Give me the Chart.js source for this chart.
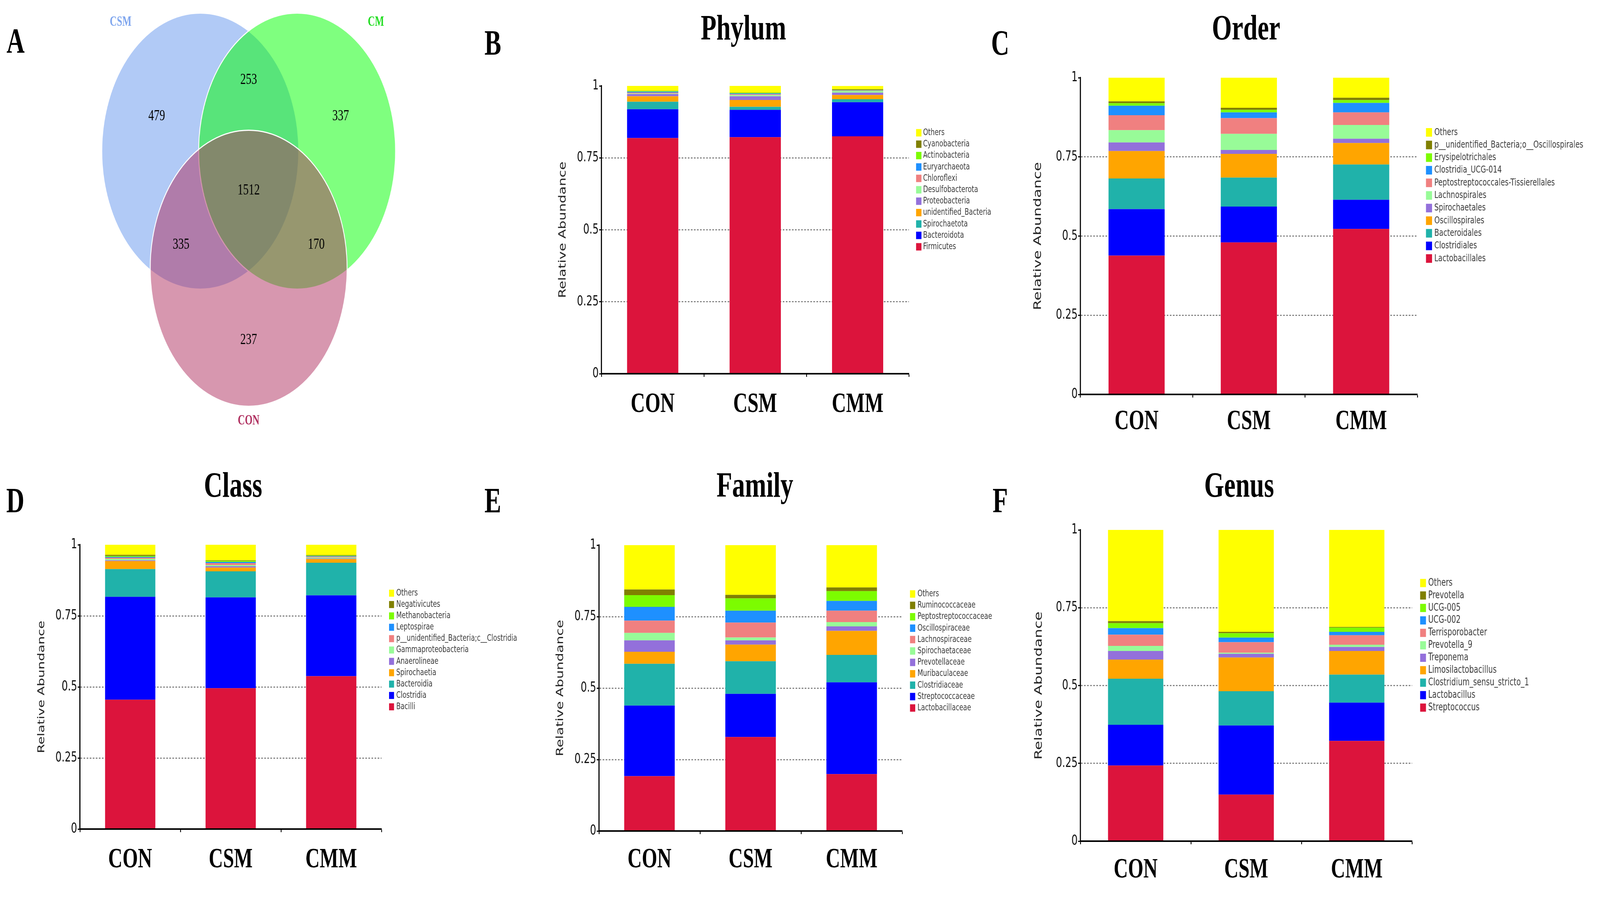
<!DOCTYPE html>
<html>
<head>
<meta charset="utf-8">
<title>Shared OTUs and relative abundance</title>
<script src="https://cdn.jsdelivr.net/npm/chart.js@4.4.1/dist/chart.umd.min.js"></script>
<style>
  html, body { margin: 0; padding: 0; background: #fff; overflow: hidden; }
  #sheet { position: relative; overflow: hidden; }
  #page { position: absolute; left: 0; top: 0; width: 5746px; height: 2297px; transform-origin: 0 0; background: #fff; }
  canvas { position: absolute; }
  .tag, .ttl { position: absolute; font-family: "Liberation Serif", "Times New Roman", serif; font-weight: bold;
               line-height: 1; transform: translate(-50%, -50%); white-space: nowrap; color: #000; }
  .tag { font-size: 90px; }
  .ttl { font-size: 92px; }
</style>
</head>
<body>
<div id="sheet">
<div id="page">
<canvas id="venn"></canvas>
<canvas id="phylum"></canvas>
<canvas id="order"></canvas>
<canvas id="class"></canvas>
<canvas id="family"></canvas>
<canvas id="genus"></canvas>

<div class="tag" style="left:56px;top:105px">A</div>
<div class="tag" style="left:1770px;top:110px">B</div>
<div class="tag" style="left:3592px;top:110px">C</div>
<div class="tag" style="left:55px;top:1282px">D</div>
<div class="tag" style="left:1770px;top:1282px">E</div>
<div class="tag" style="left:3592px;top:1282px">F</div>

<div class="ttl" style="left:2670px;top:70px">Phylum</div>
<div class="ttl" style="left:4475px;top:70px">Order</div>
<div class="ttl" style="left:837px;top:1241px">Class</div>
<div class="ttl" style="left:2711px;top:1241px">Family</div>
<div class="ttl" style="left:4450px;top:1241px">Genus</div>
</div>
</div>

<script>
// ---- data ----
const groups = ['CON', 'CSM', 'CMM'];
const yTicks = [0, 0.25, 0.5, 0.75, 1];

// venn: CSM only, CM only, CON only, CSM&CM, CSM&CON, CM&CON, all three
const vennSets = ['CSM', 'CM', 'CON'];
const vennCounts = [479, 337, 237, 253, 335, 170, 1512];

// stacks listed bottom -> top, values per group
const phylumTaxa = ['Firmicutes', 'Bacteroidota', 'Spirochaetota', 'unidentified_Bacteria', 'Proteobacteria',
  'Desulfobacterota', 'Chloroflexi', 'Euryarchaeota', 'Actinobacteria', 'Cyanobacteria', 'Others'];
const phylumCON = [0.819, 0.100, 0.026, 0.019, 0.008, 0.002, 0.003, 0.003, 0.002, 0.001, 0.017];
const phylumCSM = [0.822, 0.095, 0.0105, 0.0235, 0.013, 0.004, 0.003, 0.003, 0.002, 0.001, 0.023];
const phylumCMM = [0.825, 0.1185, 0.0105, 0.0145, 0.008, 0.006, 0.001, 0.001, 0.001, 0.003, 0.011];

const orderTaxa = ['Lactobacillales', 'Clostridiales', 'Bacteroidales', 'Oscillospirales', 'Spirochaetales',
  'Lachnospirales', 'Peptostreptococcales-Tissierellales', 'Clostridia_UCG-014', 'Erysipelotrichales',
  'p__unidentified_Bacteria;o__Oscillospirales', 'Others'];
const orderCON = [0.4385, 0.1465, 0.097, 0.0865, 0.027, 0.039, 0.047, 0.030, 0.008, 0.006, 0.0745];
const orderCSM = [0.480, 0.113, 0.0915, 0.075, 0.0125, 0.0508, 0.0497, 0.0181, 0.0081, 0.0063, 0.095];
const orderCMM = [0.5226, 0.0922, 0.1112, 0.0679, 0.0135, 0.0434, 0.0398, 0.0298, 0.0091, 0.0072, 0.0633];

const classTaxa = ['Bacilli', 'Clostridia', 'Bacteroidia', 'Spirochaetia', 'Anaerolineae', 'Gammaproteobacteria',
  'p__unidentified_Bacteria;c__Clostridia', 'Leptospirae', 'Methanobacteria', 'Negativicutes', 'Others'];
const classCON = [0.455, 0.362, 0.0975, 0.028, 0.003, 0.005, 0.004, 0.003, 0.003, 0.004, 0.0355];
const classCSM = [0.4955, 0.3195, 0.0915, 0.013, 0.005, 0.004, 0.007, 0.004, 0.004, 0.002, 0.0545];
const classCMM = [0.5377, 0.2843, 0.1147, 0.0133, 0.002, 0.003, 0.003, 0.002, 0.002, 0.002, 0.036];

const familyTaxa = ['Lactobacillaceae', 'Streptococcaceae', 'Clostridiaceae', 'Muribaculaceae', 'Prevotellaceae',
  'Spirochaetaceae', 'Lachnospiraceae', 'Oscillospiraceae', 'Peptostreptococcaceae', 'Ruminococcaceae', 'Others'];
const familyCON = [0.192, 0.247, 0.146, 0.042, 0.040, 0.026, 0.043, 0.048, 0.041, 0.020, 0.155];
const familyCSM = [0.329, 0.151, 0.114, 0.058, 0.015, 0.010, 0.052, 0.042, 0.043, 0.012, 0.174];
const familyCMM = [0.199, 0.321, 0.096, 0.084, 0.016, 0.015, 0.040, 0.034, 0.034, 0.013, 0.148];

const genusTaxa = ['Streptococcus', 'Lactobacillus', 'Clostridium_sensu_stricto_1', 'Limosilactobacillus', 'Treponema',
  'Prevotella_9', 'Terrisporobacter', 'UCG-002', 'UCG-005', 'Prevotella', 'Others'];
const genusCON = [0.243, 0.131, 0.148, 0.0615, 0.0275, 0.0165, 0.036, 0.021, 0.016, 0.0064, 0.2936];
const genusCSM = [0.1495, 0.2221, 0.1101, 0.1083, 0.0118, 0.0037, 0.0339, 0.0146, 0.014, 0.0045, 0.3275];
const genusCMM = [0.322, 0.123, 0.090, 0.076, 0.0129, 0.0073, 0.0303, 0.011, 0.0137, 0.002, 0.3118];

// ---- styles / layout ----
const serif = '"Liberation Serif", "Times New Roman", serif';
const sans = '"DejaVu Sans", Verdana, sans-serif';
const taxaColors = ['#DC143C', '#0000FF', '#20B2AA', '#FFA500', '#9370DB', '#98FB98',
  '#F08080', '#1E90FF', '#7CFC00', '#808000', '#FFFF00'];
const vennFill = ['rgba(100,149,237,0.5)', 'rgba(0,255,0,0.5)', 'rgba(176,48,96,0.5)'];
const vennNameColor = ['#7fa6ee', '#22dd22', '#b03060'];

// venn geometry in units of the circle radius, origin at the centre of the figure
const vennCircleX = [-0.492, 0.492, 0];
const vennCircleY = [0.283, 0.283, -0.566];
const vennCountX = [-0.934, 0.934, 0, 0, -0.687, 0.687, 0];
const vennCountY = [0.537, 0.537, -1.086, 0.798, -0.396, -0.396, 0];
const vennNameX = [-1.301, 1.293, 0];
const vennNameY = [1.216, 1.216, -1.672];

// the figure is laid out on a 5746 x 2297 sheet and stretched over the whole window
const sheetW = 5746, sheetH = 2297;
const fitX = window.innerWidth / sheetW;
const fitY = window.innerHeight / sheetH;
const sheet = document.getElementById('sheet');
sheet.style.width = window.innerWidth + 'px';
sheet.style.height = window.innerHeight + 'px';
document.getElementById('page').style.transform = 'scale(' + fitX + ',' + fitY + ')';
const pixelRatio = Math.max(1, (window.devicePixelRatio || 1) * Math.max(fitX, fitY));

Chart.defaults.font.family = sans;

function place(canvas, f) {
  canvas.width = f.cw;
  canvas.height = f.ch;
  canvas.style.left = f.cx + 'px';
  canvas.style.top = f.cy + 'px';
}

// legend drawn at the right of the plot, top entry = last dataset
const sideLegend = {
  id: 'sideLegend',
  afterDraw(chart, args, opts) {
    const {ctx, chartArea} = chart;
    const items = chart.data.datasets.slice().reverse();
    ctx.save();
    ctx.font = opts.font + 'px ' + sans;
    ctx.textBaseline = 'middle';
    items.forEach((ds, i) => {
      const x = chartArea.right + opts.dx;
      const y = chartArea.top + opts.dy + i * opts.pitch;
      ctx.fillStyle = ds.backgroundColor;
      ctx.fillRect(x, y - opts.box / 2, opts.box, opts.box);
      ctx.fillStyle = '#3a3a3a';
      ctx.fillText(ds.label, x + opts.gap, y);
    });
    ctx.restore();
  }
};

function stackedBars(id, taxa, byGroup, f) {
  const canvas = document.getElementById(id);
  place(canvas, f);
  const xFont = 71;
  const tick = 8;
  return new Chart(canvas.getContext('2d'), {
    type: 'bar',
    data: {
      labels: groups,
      datasets: taxa.map((name, i) => ({
        label: name,
        data: byGroup.map(g => g[i]),
        backgroundColor: taxaColors[i],
        borderWidth: 0,
        barPercentage: 0.5,
        categoryPercentage: 1
      }))
    },
    options: {
      responsive: false,
      animation: false,
      devicePixelRatio: pixelRatio,
      events: [],
      layout: { padding: { left: 0, top: f.t - f.cy, right: f.cx + f.cw - f.r, bottom: 0 } },
      plugins: {
        legend: { display: false },
        tooltip: { enabled: false },
        sideLegend: f.legend
      },
      scales: {
        x: {
          stacked: true,
          afterFit: s => { s.height = f.cy + f.ch - f.b; },
          grid: { offset: true, drawOnChartArea: false, drawTicks: true, tickLength: tick, tickColor: '#000', tickWidth: 3 },
          border: { color: '#000', width: 4, z: 1 },
          ticks: {
            color: '#000', autoSkip: false, maxRotation: 0,
            font: { family: serif, size: xFont, weight: 'bold' },
            padding: f.xLabelY - f.b - tick - 0.6 * xFont
          }
        },
        y: {
          stacked: true,
          min: 0,
          max: 1,
          afterFit: s => { s.width = f.l - f.cx; },
          afterBuildTicks: s => { s.ticks = yTicks.map(v => ({ value: v })); },
          grid: {
            color: c => (c.tick && (c.tick.value === 0 || c.tick.value === 1)) ? 'rgba(0,0,0,0)' : '#858585',
            lineWidth: 3, drawTicks: true, tickLength: tick, tickColor: '#000', tickWidth: 3
          },
          border: { color: '#000', width: 4, dash: [6, 5], z: 1 },
          ticks: { color: '#111', font: { size: 35 }, padding: 2, callback: v => String(v) },
          title: {
            display: true,
            text: 'Relative Abundance',
            color: '#222',
            font: { size: f.yTitleSize },
            padding: { top: f.yTitleX - f.cx - 0.6 * f.yTitleSize, bottom: 0 }
          }
        }
      }
    },
    plugins: [sideLegend]
  });
}

// ---- venn ----
const vennFrame = { cx: 0, cy: 0, cw: 1500, ch: 1150, ox: 893, oy: 487, r: 353.5 };
const vennText = {
  id: 'vennText',
  afterDatasetsDraw(chart) {
    const {ctx, scales: {x, y}} = chart;
    ctx.save();
    ctx.textAlign = 'center';
    ctx.textBaseline = 'middle';
    ctx.fillStyle = '#000';
    ctx.font = '40px ' + serif;
    vennCounts.forEach((n, i) => {
      ctx.fillText(String(n), x.getPixelForValue(vennCountX[i]), y.getPixelForValue(vennCountY[i]));
    });
    ctx.font = 'bold 35px ' + serif;
    vennSets.forEach((s, i) => {
      ctx.fillStyle = vennNameColor[i];
      ctx.fillText(s, x.getPixelForValue(vennNameX[i]), y.getPixelForValue(vennNameY[i]));
    });
    ctx.restore();
  }
};

const vennCanvas = document.getElementById('venn');
place(vennCanvas, vennFrame);
const unitPx = c => {
  const sx = c.chart.scales.x;
  return Math.abs(sx.getPixelForValue(1) - sx.getPixelForValue(0));
};
new Chart(vennCanvas.getContext('2d'), {
  type: 'scatter',
  data: {
    datasets: [{
      label: 'OTUs',
      data: vennSets.map((s, i) => ({ x: vennCircleX[i], y: vennCircleY[i] })),
      pointRadius: unitPx,
      pointBackgroundColor: vennFill,
      pointBorderColor: '#ffffff',
      pointBorderWidth: 3,
      clip: false
    }]
  },
  options: {
    responsive: false,
    animation: false,
    devicePixelRatio: pixelRatio,
    events: [],
    plugins: { legend: { display: false }, tooltip: { enabled: false } },
    scales: {
      x: { display: false, min: -vennFrame.ox / vennFrame.r, max: (vennFrame.cw - vennFrame.ox) / vennFrame.r },
      y: { display: false, min: -(vennFrame.ch - vennFrame.oy) / vennFrame.r, max: vennFrame.oy / vennFrame.r }
    }
  },
  plugins: [vennText]
});

// ---- bar panels ----
stackedBars('phylum', phylumTaxa, [phylumCON, phylumCSM, phylumCMM], {
  cx: 1990, cy: 160, cw: 1610, ch: 937, l: 2160, r: 3264, t: 220, b: 957,
  xLabelY: 1037, yTitleX: 2022, yTitleSize: 35,
  legend: { dx: 26, dy: 120, pitch: 29.2, box: 19, font: 23, gap: 25 }
});
stackedBars('order', orderTaxa, [orderCON, orderCSM, orderCMM], {
  cx: 3695, cy: 139, cw: 2051, ch: 1011, l: 3880, r: 5090, t: 199, b: 1010,
  xLabelY: 1081, yTitleX: 3728, yTitleSize: 38,
  legend: { dx: 31, dy: 140, pitch: 32.3, box: 22, font: 25, gap: 30 }
});
stackedBars('class', classTaxa, [classCON, classCSM, classCMM], {
  cx: 118, cy: 1335, cw: 1782, ch: 928, l: 287, r: 1370, t: 1395, b: 2123,
  xLabelY: 2203, yTitleX: 150, yTitleSize: 34,
  legend: { dx: 27, dy: 124, pitch: 29.1, box: 18, font: 23, gap: 26 }
});
stackedBars('family', familyTaxa, [familyCON, familyCSM, familyCMM], {
  cx: 1981, cy: 1336, cw: 1629, ch: 932, l: 2151, r: 3240, t: 1396, b: 2128,
  xLabelY: 2203, yTitleX: 2013, yTitleSize: 35,
  legend: { dx: 28, dy: 125, pitch: 29.2, box: 19, font: 23, gap: 27 }
});
stackedBars('genus', genusTaxa, [genusCON, genusCSM, genusCMM], {
  cx: 3698, cy: 1297, cw: 2048, ch: 997, l: 3880, r: 5071, t: 1357, b: 2154,
  xLabelY: 2229, yTitleX: 3731, yTitleSize: 38,
  legend: { dx: 29, dy: 136, pitch: 31.9, box: 21, font: 26, gap: 29 }
});
</script>
</body>
</html>
